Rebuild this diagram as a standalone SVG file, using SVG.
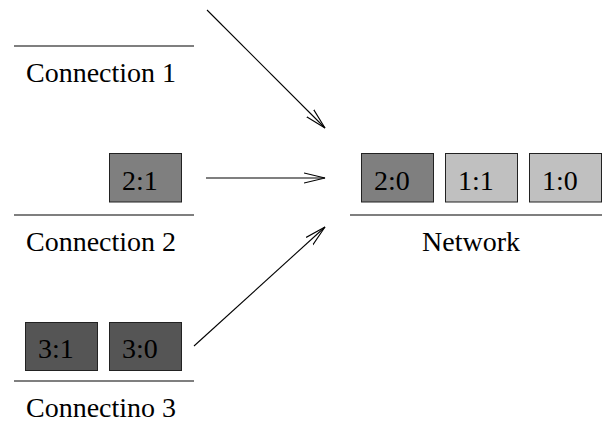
<svg xmlns="http://www.w3.org/2000/svg" width="602" height="424" viewBox="0 0 602 424">
<style>
text{font-family:"Liberation Serif","Times New Roman",serif;font-size:28px;fill:#000}
.base{stroke:#000;stroke-width:1.2}
.box{stroke:#222;stroke-width:1}
.c1{fill:#c0c0c0}.c2{fill:#7f7f7f}.c3{fill:#555555}
.arr{stroke:#000;stroke-width:1.1;fill:none;marker-end:url(#ah)}
</style>
<defs>
<marker id="ah" markerWidth="24" markerHeight="14" refX="21" refY="6" orient="auto" markerUnits="userSpaceOnUse">
<path d="M0,1 L21,6 L0,11" fill="none" stroke="#000" stroke-width="1.1"/>
</marker>
</defs>
<rect width="602" height="424" fill="#fff"/>
<g id="conn1">
<line class="base" x1="14" y1="46" x2="194" y2="46"/>
<text x="26" y="82">Connection 1</text>
</g>
<g id="conn2">
<rect class="box c2" x="109.5" y="153.5" width="72" height="48.5"/>
<text x="122" y="190">2:1</text>
<line class="base" x1="14" y1="215" x2="194" y2="215"/>
<text x="26" y="251">Connection 2</text>
</g>
<g id="conn3">
<rect class="box c3" x="25.5" y="322.5" width="72" height="48"/>
<text x="38" y="358">3:1</text>
<rect class="box c3" x="109.5" y="322.5" width="72" height="48"/>
<text x="122" y="358">3:0</text>
<line class="base" x1="14" y1="381" x2="194" y2="381"/>
<text x="26" y="417">Connectino 3</text>
</g>
<g id="network">
<rect class="box c2" x="361.5" y="153.5" width="72" height="48.5"/>
<text x="374" y="190">2:0</text>
<rect class="box c1" x="445.5" y="153.5" width="72" height="48.5"/>
<text x="458" y="190">1:1</text>
<rect class="box c1" x="529.5" y="153.5" width="72" height="48.5"/>
<text x="542" y="190">1:0</text>
<line class="base" x1="350" y1="215" x2="602" y2="215"/>
<text x="422" y="251">Network</text>
</g>
<g id="connectors">
<line class="arr" x1="207" y1="10" x2="325" y2="128"/>
<line class="arr" x1="206" y1="178" x2="325" y2="178"/>
<line class="arr" x1="194" y1="346" x2="325" y2="227"/>
</g>
</svg>
